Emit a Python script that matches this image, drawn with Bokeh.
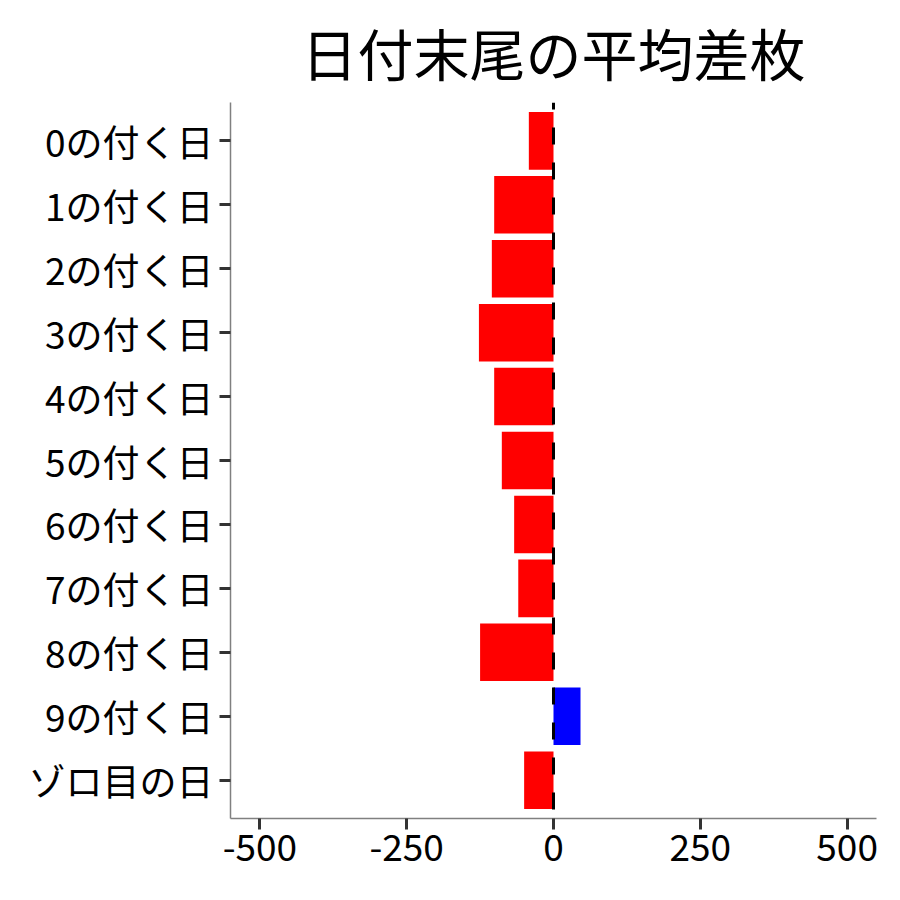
from bokeh.plotting import figure
from bokeh.models import Range1d, FixedTicker, Span, ColumnDataSource
from bokeh.embed import file_html
from bokeh.resources import INLINE

# ---- data ----
categories = ["0の付く日", "1の付く日", "2の付く日", "3の付く日", "4の付く日",
              "5の付く日", "6の付く日", "7の付く日", "8の付く日", "9の付く日", "ゾロ目の日"]
values = [-42, -101, -105, -127, -101, -88, -67, -60, -125, 46, -50]
x_ticks = [-500, -250, 0, 250, 500]
x_tick_labels = ["-500", "-250", "0", "250", "500"]
title_text = "日付末尾の平均差枚"

FONT = "Noto Sans CJK JP"
n = len(categories)
ypos = [n - i for i in range(n)]
colors = ["#FF0000" if v < 0 else "#0000FF" for v in values]

src = ColumnDataSource(dict(y=ypos, left=[0] * n, right=values, color=colors))

p = figure(output_backend="svg", toolbar_location=None,
           frame_width=646, frame_height=716,
           x_range=Range1d(-550, 550), y_range=Range1d(0.4, n + 0.6),
           min_border_left=230, min_border_top=0, min_border_right=6, min_border_bottom=70)
p.title.text = title_text
p.title.align = "center"
p.title.vertical_align = "middle"
p.title.text_font = FONT
p.title.text_font_size = "56px"
p.title.text_font_style = "normal"
p.title.text_color = "black"
p.title.standoff = 19

p.hbar(y="y", left="left", right="right", height=0.9, color="color", line_color=None, source=src)

p.add_layout(Span(location=0, dimension="height", line_color="black",
                  line_width=3, line_dash="17 18", line_dash_offset=10))

p.xgrid.visible = False
p.ygrid.visible = False
p.outline_line_color = None
p.background_fill_color = "white"
p.border_fill_color = "white"

p.xaxis.ticker = FixedTicker(ticks=x_ticks)
p.xaxis.major_label_overrides = {t: l for t, l in zip(x_ticks, x_tick_labels)}
p.yaxis.ticker = FixedTicker(ticks=ypos)
p.yaxis.major_label_overrides = {y: c for y, c in zip(ypos, categories)}

for ax in (p.xaxis[0], p.yaxis[0]):
    ax.axis_line_color = "#808080"
    ax.axis_line_width = 1.5
    ax.major_tick_line_color = "#333333"
    ax.major_tick_line_width = 3
    ax.major_tick_out = 11
    ax.major_tick_in = 0
    ax.minor_tick_line_color = None
    ax.major_label_text_font = FONT
    ax.major_label_text_font_size = "37px"
    ax.major_label_text_color = "black"
p.xaxis.major_label_standoff = 4
p.yaxis.major_label_standoff = 6

open("out.html", "w").write(file_html(p, INLINE))
